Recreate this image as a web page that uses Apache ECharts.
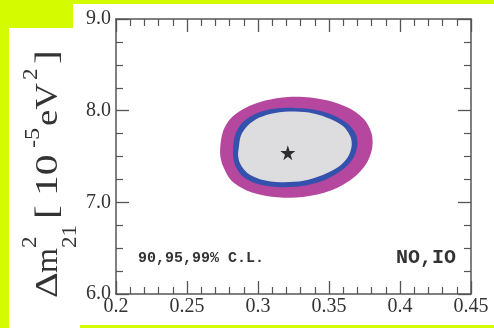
<!DOCTYPE html>
<html><head><meta charset="utf-8">
<script src="https://cdn.jsdelivr.net/npm/echarts@6/dist/echarts.min.js"></script>
<style>html,body{margin:0;padding:0;background:#d5fb00}#c{width:494px;height:328px}</style>
</head><body><div id="c"></div>
<script>
const xTicks = [0.2, 0.25, 0.3, 0.35, 0.4, 0.45];
const yTicks = [6.0, 7.0, 8.0, 9.0];
const bestFit = [[0.321, 7.54]];
const contour99 = [[0.2735,7.62],[0.2755,7.78],[0.2810,7.92],[0.2910,8.03],[0.3050,8.11],[0.3210,8.15],[0.3370,8.145],[0.3520,8.10],[0.3650,8.02],[0.3750,7.90],[0.3800,7.75],[0.3805,7.60],[0.3770,7.44],[0.3690,7.29],[0.3560,7.16],[0.3400,7.08],[0.3230,7.05],[0.3060,7.07],[0.2920,7.13],[0.2810,7.24],[0.2755,7.39],[0.2735,7.50]];
const contour95 = [[0.2825,7.60],[0.2840,7.74],[0.2890,7.87],[0.2980,7.965],[0.3110,8.02],[0.3260,8.03],[0.3400,8.01],[0.3530,7.95],[0.3630,7.86],[0.3690,7.74],[0.3700,7.62],[0.3670,7.48],[0.3600,7.36],[0.3480,7.25],[0.3320,7.18],[0.3150,7.165],[0.3000,7.20],[0.2895,7.28],[0.2840,7.40],[0.2825,7.50]];
const contour90 = [[0.2865,7.60],[0.2880,7.73],[0.2930,7.84],[0.3010,7.925],[0.3120,7.975],[0.3260,7.99],[0.3390,7.97],[0.3510,7.91],[0.3600,7.83],[0.3650,7.72],[0.3660,7.62],[0.3635,7.50],[0.3570,7.39],[0.3460,7.30],[0.3320,7.235],[0.3160,7.22],[0.3020,7.25],[0.2925,7.32],[0.2875,7.42],[0.2860,7.51]];
const clLabel = '90,95,99% C.L.';
const orderLabel = 'NO,IO';

const chart = echarts.init(document.getElementById('c'), null, {renderer: 'canvas'});
const axisColor = '#555';
const serif = 'Liberation Serif';
const mono = 'Liberation Mono';

function contourSeries(pts, color, z) {
  return {
    type: 'custom', z: z, silent: true, clip: false,
    data: pts,
    encode: {x: 0, y: 1},
    renderItem: function (params, api) {
      if (params.dataIndex !== 0) return null;
      return {
        type: 'polygon',
        shape: {points: pts.map(p => api.coord(p)), smooth: 0.3},
        style: {fill: color, stroke: null}
      };
    }
  };
}

const xBase = {
  type: 'value', min: xTicks[0], max: xTicks[xTicks.length - 1], interval: 0.05,
  axisLine: {show: true, onZero: false, lineStyle: {color: axisColor, width: 1.5}},
  axisTick: {show: true, inside: true, length: 13, lineStyle: {color: axisColor, width: 1.3}},
  minorTick: {show: true, splitNumber: 5, length: 7, lineStyle: {color: axisColor, width: 1.2}},
  splitLine: {show: false}
};
const yBase = {
  type: 'value', min: yTicks[0], max: yTicks[yTicks.length - 1], interval: 1,
  axisLine: {show: true, onZero: false, lineStyle: {color: axisColor, width: 1.5}},
  axisTick: {show: true, inside: true, length: 13, lineStyle: {color: axisColor, width: 1.3}},
  minorTick: {show: true, splitNumber: 4, length: 7, lineStyle: {color: axisColor, width: 1.2}},
  splitLine: {show: false}
};

const titleFont = 32, supFont = 21;
function t(text, x, y, size, sx) {
  return {type: 'text', x: x, y: y, scaleX: sx || 1,
    style: {text: text, fontSize: size, fontFamily: serif, fill: '#333', align: 'left', verticalAlign: 'middle'}};
}

chart.setOption({
  backgroundColor: '#d5fb00',
  animation: false,
  grid: {left: 116, right: 23, top: 19, bottom: 34, containLabel: false},
  xAxis: [
    Object.assign({}, xBase, {position: 'bottom',
      axisLabel: {show: true, margin: 3, color: '#333', fontFamily: serif, fontSize: 20, showMinLabel: true, showMaxLabel: true}}),
    Object.assign({}, xBase, {position: 'top', axisLabel: {show: false}})
  ],
  yAxis: [
    Object.assign({}, yBase, {position: 'left',
      axisLabel: {show: true, margin: 5, color: '#333', fontFamily: serif, fontSize: 20,
        formatter: v => v.toFixed(1), showMinLabel: true, showMaxLabel: true}}),
    Object.assign({}, yBase, {position: 'right', axisLabel: {show: false}})
  ],
  graphic: [
    {type: 'polygon', z: -10, silent: true,
      shape: {points: [[73,4],[494,4],[494,325],[80,325],[80,328],[9,328],[9,28],[73,28]]},
      style: {fill: '#ffffff'}},
    {type: 'group', x: 60, y: 298, rotation: Math.PI / 2, z: 50, children: [
      t('\u0394', 0, -11, titleFont, 1.25),
      t('m', 25, -11, titleFont, 1),
      t('2', 50, -30, supFont, 1.1),
      t('21', 50, 10, supFont, 1.1),
      t('[', 79, -11, titleFont, 1.3),
      t('10', 102, -11, titleFont, 1.3),
      t('-5', 150, -27, supFont, 1.15),
      t('eV', 172, -11, titleFont, 1.15),
      t('2', 218, -29, supFont, 1.1),
      t(']', 234, -11, titleFont, 1.3)
    ]},
    {type: 'text', x: 138, y: 258, z: 50, style: {text: clLabel, fontSize: 15, fontWeight: 'bold', fontFamily: mono, fill: '#333', align: 'left', verticalAlign: 'middle'}},
    {type: 'text', x: 456, y: 258, z: 50, style: {text: orderLabel, fontSize: 20, fontWeight: 'bold', fontFamily: mono, fill: '#333', align: 'right', verticalAlign: 'middle'}}
  ],
  series: [
    contourSeries(contour99, '#b5479f', 3),
    contourSeries(contour95, '#3351ad', 4),
    contourSeries(contour90, '#dddddf', 5),
    {type: 'scatter', z: 10, silent: true, data: bestFit,
      symbol: 'path://M50,0 L61,35 L98,35 L68,57 L79,91 L50,70 L21,91 L32,57 L2,35 L39,35 Z',
      symbolSize: 15, itemStyle: {color: '#000'}}
  ]
});
</script></body></html>
